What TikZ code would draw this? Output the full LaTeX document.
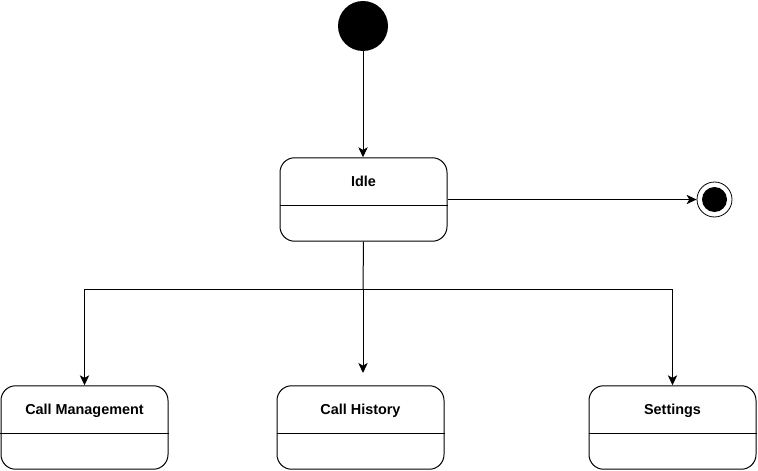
\documentclass[tikz,border=0pt]{standalone}
\usepackage{fontspec}
\setmainfont{Liberation Sans}
\usepackage{tikz}
\usetikzlibrary{calc,arrows.meta}
\tikzset{
  state/.style={draw, line width=0.75pt, rounded corners=11pt, minimum width=125.25pt, minimum height=62.6pt, inner sep=0pt},
  lab/.style={font=\fontsize{10.8pt}{12pt}\selectfont\bfseries, inner sep=0pt, anchor=base},
  start/.style={circle, fill=black, minimum size=37.5pt, inner sep=0pt},
  stopout/.style={circle, draw, line width=0.6pt, minimum size=26.25pt, inner sep=0pt},
  stopin/.style={circle, fill=black, minimum size=18.75pt, inner sep=0pt},
  flow/.style={line width=0.75pt, -{Stealth[length=7.5pt,width=7pt,inset=2pt]}},
  wire/.style={line width=0.75pt},
}
\newcommand{\statebox}[3]{%
  \node[state] (#1) at #2 {};
  \node[lab] (#1-lab) at ($(#1.north)+(0,29.7)$) {#3};
  \draw[line width=0.75pt] ($(#1.north west)+(0,48)$) -- ($(#1.north east)+(0,48)$);
}

\begin{document}
\begin{tikzpicture}[x=0.75pt, y=-0.75pt]
  \useasboundingbox (0,0) rectangle (758,471);
  % initial and final states
  \node[start] (init) at (363,26) {};
  \node[stopout] (final) at (714.5,199.5) {};
  \node[stopin] (final-in) at (final) {};
  % states
  \statebox{idle}{(363.5,199.5)}{Idle}
  \statebox{callmgmt}{(84.5,427.5)}{Call Management}
  \statebox{history}{(360.5,427.5)}{Call History}
  \statebox{settings}{(672.5,427.5)}{Settings}
  % transitions
  \coordinate (split) at (363,289);
  \coordinate (histin) at (363,373);
  \draw[flow] (init.south) -- (init.south |- idle.north);
  \draw[flow] (idle.east) -- (final.west);
  \draw[wire] (idle.south) -- (split);
  \draw[flow] (split) -| (callmgmt.north);
  \draw[flow] (split) -- (histin);
  \draw[flow] (split) -| (settings.north);
\end{tikzpicture}
\end{document}
